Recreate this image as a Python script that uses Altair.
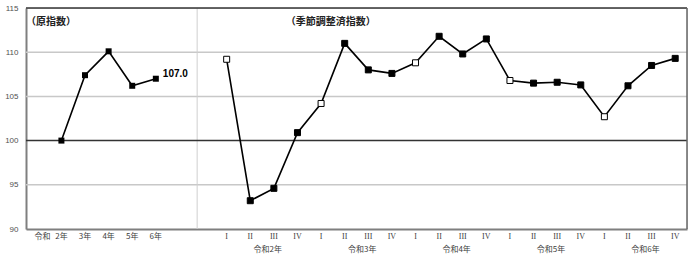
import altair as alt
import pandas as pd

# ---- data ----
annual_labels = ["2年", "3年", "4年", "5年", "6年"]
annual_values = [100.0, 107.4, 110.1, 106.2, 107.0]
quarter_labels = ["I", "II", "III", "IV"] * 5
quarter_values = [109.2, 93.2, 94.6, 100.9,
                  104.2, 111.0, 108.0, 107.6,
                  108.8, 111.8, 109.8, 111.5,
                  106.8, 106.5, 106.6, 106.3,
                  102.7, 106.2, 108.5, 109.3]
year_group_labels = ["令和2年", "令和3年", "令和4年", "令和5年", "令和6年"]
grid_values = [95, 105, 110]
y_ticks = [90, 95, 100, 105, 110, 115]

# ---- tables ----
annual = pd.DataFrame({
    "label": annual_labels,
    "value": annual_values,
    "x": [i + 1.5 for i in range(len(annual_labels))],
})
quarter = pd.DataFrame({
    "label": quarter_labels,
    "value": quarter_values,
    "x": [j + 8.5 for j in range(len(quarter_labels))],
    "open": [j % 4 == 0 for j in range(len(quarter_labels))],
})
groups = pd.DataFrame({
    "label": year_group_labels,
    "x": [8 + 4 * k + 2.24 for k in range(len(year_group_labels))],
})
era = pd.DataFrame({"label": ["令和"], "x": [0.7]})
grid = pd.DataFrame({"y": grid_values})
last = annual.tail(1).assign(txt=lambda d: d["value"].map(lambda v: f"{v:.1f}"))

xs = alt.Scale(domain=[0, 28], nice=False, zero=False)
ys = alt.Scale(domain=[90, 115], nice=False, zero=False)

JP = "Noto Sans CJK JP"

X = alt.X("x:Q", scale=xs, axis=alt.Axis(labels=False, ticks=False, grid=False, title=None,
                                           domainColor="#7f7f7f", domainWidth=2))
Y = alt.Y("value:Q", scale=ys, axis=alt.Axis(values=y_ticks, ticks=False, grid=False, title=None,
                                               labelFont="Liberation Sans", labelFontSize=8,
                                               labelColor="#505050", labelPadding=8,
                                               domainColor="#7f7f7f", domainWidth=2))

grid_rules = alt.Chart(grid).mark_rule(color="#c8c8c8", strokeWidth=1.5).encode(
    y=alt.Y("y:Q", scale=ys))
base_rule = alt.Chart(pd.DataFrame({"y": [100]})).mark_rule(color="#333333", strokeWidth=1.5).encode(
    y=alt.Y("y:Q", scale=ys))
top_rule = alt.Chart(pd.DataFrame({"y": [115]})).mark_rule(color="#333333", strokeWidth=1.5).encode(
    y=alt.Y("y:Q", scale=ys))
right_rule = alt.Chart(pd.DataFrame({"x": [28]})).mark_rule(color="#666666", strokeWidth=1.5).encode(
    x=alt.X("x:Q", scale=xs))
sep_rule = alt.Chart(pd.DataFrame({"x": [7.25]})).mark_rule(color="#cfcfcf", strokeWidth=1).encode(
    x=alt.X("x:Q", scale=xs))

annual_line = alt.Chart(annual).mark_line(color="black", strokeWidth=1.6).encode(x=X, y=Y)
annual_pts = alt.Chart(annual).mark_point(shape="square", filled=True, color="black", size=36,
                                          opacity=1).encode(x=X, y=Y)
quarter_line = alt.Chart(quarter).mark_line(color="black", strokeWidth=1.6).encode(x=X, y=Y)
quarter_pts = alt.Chart(quarter).mark_point(shape="square", size=36, opacity=1,
                                            stroke="black", strokeWidth=1).encode(
    x=X, y=Y,
    fill=alt.condition("datum.open", alt.value("white"), alt.value("black")))

last_label = alt.Chart(last).mark_text(align="left", baseline="middle", dx=7, dy=-5,
                                       font="Liberation Sans", fontSize=10, fontWeight="bold",
                                       color="black").encode(x=X, y=Y, text="txt:N")

q_axis_labels = alt.Chart(quarter).mark_text(font="Liberation Serif", fontSize=8, color="#404040",
                                             baseline="middle").encode(
    x=alt.X("x:Q", scale=xs), y=alt.value(229), text="label:N")
a_axis_labels = alt.Chart(annual).mark_text(font=JP, fontSize=8, color="#404040",
                                            baseline="middle").encode(
    x=alt.X("x:Q", scale=xs), y=alt.value(229), text="label:N")
era_label = alt.Chart(era).mark_text(font=JP, fontSize=8, color="#404040",
                                     baseline="middle").encode(
    x=alt.X("x:Q", scale=xs), y=alt.value(229), text="label:N")
g_labels = alt.Chart(groups).mark_text(font=JP, fontSize=8, color="#404040",
                                       baseline="middle").encode(
    x=alt.X("x:Q", scale=xs), y=alt.value(242), text="label:N")

titles = alt.Chart(pd.DataFrame({"t": ["（原指数）", "（季節調整済指数）"],
                                 "x": [0.0, 11.0]})).mark_text(
    font=JP, fontSize=10, fontWeight="bold", color="#222222", align="left",
    baseline="middle").encode(x=alt.X("x:Q", scale=xs), y=alt.value(14), text="t:N")

chart = alt.layer(
    grid_rules, sep_rule, base_rule, top_rule, right_rule,
    annual_line, quarter_line, annual_pts, quarter_pts, last_label,
    q_axis_labels, a_axis_labels, era_label, g_labels, titles,
).properties(
    width=661, height=221,
    autosize=alt.AutoSizeParams(type="none"),
    padding={"left": 26, "top": 8, "right": 13, "bottom": 29},
).configure_view(stroke=None).configure(background="white")

chart.save("out.html", embed_options={"renderer": "svg", "actions": False})
